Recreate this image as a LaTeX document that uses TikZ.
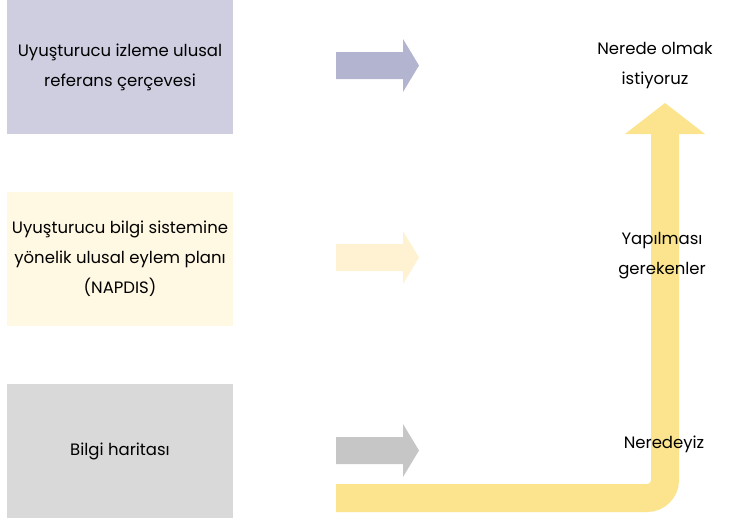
\documentclass[tikz,border=0pt]{standalone}
\usepackage{fontspec}
\setmainfont{Poppins}
\usetikzlibrary{positioning}
\definecolor{lavbox}{RGB}{207,206,225}
\definecolor{lavarr}{RGB}{178,180,208}
\definecolor{creambox}{RGB}{255,248,226}
\definecolor{creamarr}{RGB}{255,242,210}
\definecolor{greybox}{RGB}{217,217,217}
\definecolor{greyarr}{RGB}{198,198,198}
\definecolor{path}{RGB}{251,228,141}
\begin{document}
\begin{tikzpicture}[
  x=1pt, y=-1pt,
  every node/.style={font=\fontsize{16.5}{30}\selectfont, align=center},
  panel/.style={minimum width=226pt, minimum height=134pt, inner sep=0pt},
  label/.style={inner sep=0pt},
]
\useasboundingbox (0,0) rectangle (731,522);
% left panels
\node[panel, fill=lavbox]   (frame) at (120,67)  {Uyuşturucu izleme ulusal\\referans çerçevesi};
\node[panel, fill=creambox] (plan)  at (120,259) {Uyuşturucu bilgi sistemine\\yönelik ulusal eylem planı\\(NAPDIS)};
\node[panel, fill=greybox]  (map)   at (120,451) {Bilgi haritası};
% block arrows
\fill[lavarr]   (336,52) -- (403,52) -- (403,39) -- (419,65.5) -- (403,92) -- (403,79) -- (336,79) -- cycle;
\fill[creamarr] (336,244) -- (403,244) -- (403,231) -- (419,257.5) -- (403,284) -- (403,271) -- (336,271) -- cycle;
\fill[greyarr]  (336,437) -- (403,437) -- (403,424) -- (419,450.5) -- (403,477) -- (403,464) -- (336,464) -- cycle;
% the road
\coordinate (start) at (336,498);
\coordinate (bend)  at (665,498);
\coordinate (top)   at (665,133);
\draw[path, line width=28pt, rounded corners=18pt] (start) -- (bend) -- (top);
\fill[path] (625,134) -- (665,103) -- (705,134) -- cycle;
% right labels
\node[label] (goal) at (655,66)  {Nerede olmak\\istiyoruz};
\node[label] (todo) at (662,256) {Yapılması\\gerekenler};
\node[label] (now)  at (664,444) {Neredeyiz};
\end{tikzpicture}
\end{document}
